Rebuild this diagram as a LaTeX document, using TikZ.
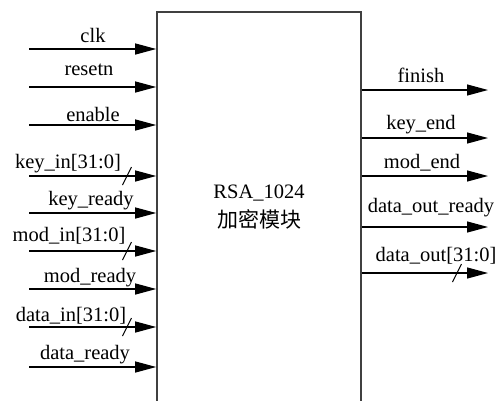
\documentclass[tikz,border=0pt]{standalone}
\usepackage{fontspec}
\setmainfont{Liberation Serif}
\newfontfamily\cjk{Noto Sans CJK SC}
\usetikzlibrary{arrows.meta}
\tikzset{
  sig/.style={line width=1.2pt, -{Triangle[length=21pt,width=11pt]}},
  modbox/.style={draw=black!75, line width=1.6pt, rectangle, minimum width=204pt, minimum height=408pt, inner sep=0pt},
  lbl/.style={anchor=base, inner sep=0pt, font=\fontsize{20.5}{24}\selectfont},
  busmark/.style={line width=1.1pt},
}
\begin{document}
\begin{tikzpicture}[x=1pt,y=-1pt]
\useasboundingbox (0,0) rectangle (499,400);
\fill[white] (0,0) rectangle (499,400);
\node[modbox] (m) at (259,216) {};
\node[lbl, align=center, anchor=center] (title) at (259,207) {RSA\_1024\\[5pt]{\cjk\fontsize{21}{24}\selectfont 加密模块}};
% input start coordinates
\coordinate (iclk) at (29,49);
\coordinate (ires) at (29,87);
\coordinate (ien) at (29,125);
\coordinate (ikey) at (29,176);
\coordinate (ikr) at (29,213);
\coordinate (imod) at (29,251);
\coordinate (imr) at (29,289);
\coordinate (idat) at (29,327);
\coordinate (idr) at (29,367);
% output end coordinates
\coordinate (ofin) at (488,90);
\coordinate (oke) at (488,138);
\coordinate (ome) at (488,176);
\coordinate (odor) at (488,227);
\coordinate (odo) at (488,273);
% inputs
\foreach \c in {iclk,ires,ien,ikey,ikr,imod,imr,idat,idr}
  \draw[sig] (\c) -- (\c -| m.west);
% outputs
\foreach \c in {ofin,oke,ome,odor,odo}
  \draw[sig] (\c -| m.east) -- (\c);
% bus marks
\draw[busmark] ([shift={(-4.5,9)}]ikey -| 127,0) -- ([shift={(4.5,-9)}]ikey -| 127,0);
\draw[busmark] ([shift={(-4.5,9)}]imod -| 127,0) -- ([shift={(4.5,-9)}]imod -| 127,0);
\draw[busmark] ([shift={(-4.5,9)}]idat -| 127,0) -- ([shift={(4.5,-9)}]idat -| 127,0);
\draw[busmark] ([shift={(-4.5,9)}]odo -| 457,0) -- ([shift={(4.5,-9)}]odo -| 457,0);
% left labels
\node[lbl] (lclk) at (93,42) {clk};
\node[lbl] (lres) at (89,75) {resetn};
\node[lbl] (len) at (93,121) {enable};
\node[lbl] (lkey) at (68,168) {key\_in[31:0]};
\node[lbl] (lkr) at (91,205) {key\_ready};
\node[lbl] (lmod) at (69,241) {mod\_in[31:0]};
\node[lbl] (lmr) at (90,282) {mod\_ready};
\node[lbl] (ldat) at (71,321) {data\_in[31:0]};
\node[lbl] (ldr) at (85,359) {data\_ready};
% right labels
\node[lbl] (lfin) at (421,82) {finish};
\node[lbl] (lke) at (421,129) {key\_end};
\node[lbl] (lme) at (422,168) {mod\_end};
\node[lbl] (ldor) at (431,212) {data\_out\_ready};
\node[lbl] (ldo) at (436,261) {data\_out[31:0]};
\end{tikzpicture}
\end{document}
